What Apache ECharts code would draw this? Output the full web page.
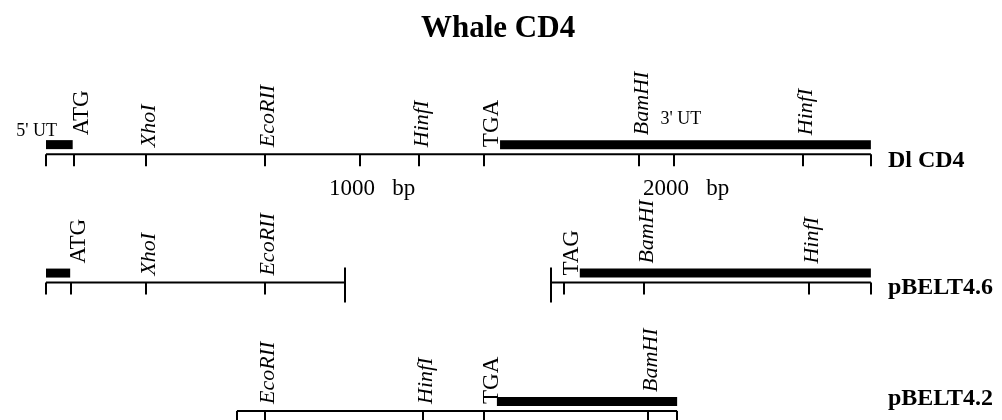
<!DOCTYPE html>
<html><head><meta charset="utf-8">
<script src="https://cdn.jsdelivr.net/npm/echarts@6/dist/echarts.min.js"></script>
<style>html,body{margin:0;padding:0;background:#fff}#c{width:1002px;height:420px}</style>
</head><body><div id="c"></div>
<script>
// ---- data (base pairs) ----
const chartTitle = 'Whale CD4';
const rowNames = ['Dl CD4', 'pBELT4.6', 'pBELT4.2'];
// [row, start bp, end bp]
const lineSegments = [[0, 0, 2627], [1, 0, 952], [1, 1608, 2627], [2, 608, 2010]];
// coding / UT thick bars [row, start bp, end bp]
const thickBars = [[0, 0, 85], [0, 1446, 2627], [1, 0, 77], [1, 1700, 2627], [2, 1436, 2010]];
// sites [row, bp, name]
const sites = [
  [0, 89, 'ATG'], [0, 318, 'XhoI'], [0, 697, 'EcoRII'], [0, 1188, 'HinfI'], [0, 1395, 'TGA'], [0, 1889, 'BamHI'], [0, 2411, 'HinfI'],
  [1, 80, 'ATG'], [1, 318, 'XhoI'], [1, 697, 'EcoRII'], [1, 1650, 'TAG'], [1, 1904, 'BamHI'], [1, 2430, 'HinfI'],
  [2, 697, 'EcoRII'], [2, 1200, 'HinfI'], [2, 1395, 'TGA'], [2, 1917, 'BamHI']
];
const scaleTicks = [1000, 2000];
const scaleUnit = 'bp';
const fragmentBreaks = [[1, 952], [1, 1608]];
const utrLabels = [["5' UT", 0, 35], ["3' UT", 0, 2022]];

// ---- derived ----
const codons = ['ATG', 'TGA', 'TAG'];
const tickList = [];
const isBreak = (r, v) => fragmentBreaks.some(b => b[0] === r && b[1] === v);
lineSegments.forEach(([r, s, e]) => {
  [s, e].forEach(v => { if (!isBreak(r, v)) tickList.push([r, v, 0]); });
});
sites.forEach(([r, v]) => tickList.push([r, v, 0]));
scaleTicks.forEach(v => tickList.push([0, v, 0]));
fragmentBreaks.forEach(([r, v]) => tickList.push([r, v, 1]));
const maxEnd = Math.max(...lineSegments.map(s => s[2]));

const FONT = '"Liberation Serif", "Times New Roman", serif';
const chart = echarts.init(document.getElementById('c'), null, { renderer: 'canvas' });

function renderLine(params, api) {
  const [r, s, e] = lineSegments[params.dataIndex];
  const a = api.coord([s, r]), b = api.coord([e, r]);
  return { type: 'line', shape: { x1: a[0], y1: a[1], x2: b[0], y2: b[1] }, style: { stroke: '#000', lineWidth: 2 } };
}
function renderTick(params, api) {
  const [r, v, tall] = tickList[params.dataIndex];
  const p = api.coord([v, r]);
  const x = Math.round(p[0]);
  return { type: 'line', shape: { x1: x, y1: p[1] - (tall ? 15 : 0), x2: x, y2: p[1] + (tall ? 20 : 12) }, style: { stroke: '#000', lineWidth: 2 } };
}
function renderBar(params, api) {
  const [r, s, e] = thickBars[params.dataIndex];
  const a = api.coord([s, r]), b = api.coord([e, r]);
  return { type: 'rect', shape: { x: a[0], y: a[1] - 14, width: b[0] - a[0], height: 9 }, style: { fill: '#000' } };
}
function renderSite(params, api) {
  const [r, v, name] = sites[params.dataIndex];
  const p = api.coord([v, r]);
  const isCodon = codons.includes(name);
  const lifted = thickBars.some(b => b[0] === r && v >= b[1] - 10 && v <= b[2] + 10);
  return {
    type: 'text', x: p[0] + (isCodon ? 8 : 3), y: p[1] - (lifted ? 19 : 7), rotation: Math.PI / 2,
    style: {
      text: name, x: 0, y: 0, align: 'left', verticalAlign: 'middle',
      font: (isCodon ? 'normal 23px ' : 'italic 22px ') + FONT, fill: '#000'
    }
  };
}
function renderScale(params, api) {
  const v = scaleTicks[params.dataIndex];
  const p = api.coord([v, 0]);
  return { type: 'text', x: p[0] - 31, y: p[1] + 35, style: { text: v + '   ' + scaleUnit, align: 'left', verticalAlign: 'middle', font: '23px ' + FONT, fill: '#000' } };
}
function renderUtr(params, api) {
  const i = params.dataIndex;
  const [t, r, v] = utrLabels[i];
  const p = api.coord([v, r]);
  const dy = i === 0 ? -23 : -35;
  return { type: 'text', x: p[0], y: p[1] + dy, style: { text: t, align: i === 0 ? 'right' : 'center', verticalAlign: 'middle', font: '18px ' + FONT, fill: '#000' } };
}
const nameDy = [7, 5, -12];
function renderName(params, api) {
  const i = params.dataIndex;
  const p = api.coord([maxEnd, i]);
  return { type: 'text', x: p[0] + 17, y: p[1] + nameDy[i], style: { text: rowNames[i], align: 'left', verticalAlign: 'middle', font: 'bold 24px ' + FONT, fill: '#000' } };
}

const mk = (fn, arr) => ({ type: 'custom', renderItem: fn, data: arr.map((d, i) => [i]), silent: true, animation: false });

chart.setOption({
  backgroundColor: '#fff',
  animation: false,
  title: { text: chartTitle, left: 416, top: 8, textStyle: { fontFamily: FONT, fontSize: 31, fontWeight: 'bold', color: '#000' } },
  grid: { left: 46, right: 14, top: 0, bottom: 0 },
  xAxis: { type: 'value', min: 0, max: 3000, show: false },
  yAxis: { type: 'value', inverse: true, min: -1.2, max: 2.07, show: false },
  series: [
    mk(renderLine, lineSegments), mk(renderTick, tickList), mk(renderBar, thickBars),
    mk(renderSite, sites), mk(renderScale, scaleTicks), mk(renderUtr, utrLabels), mk(renderName, rowNames)
  ]
});
</script></body></html>
